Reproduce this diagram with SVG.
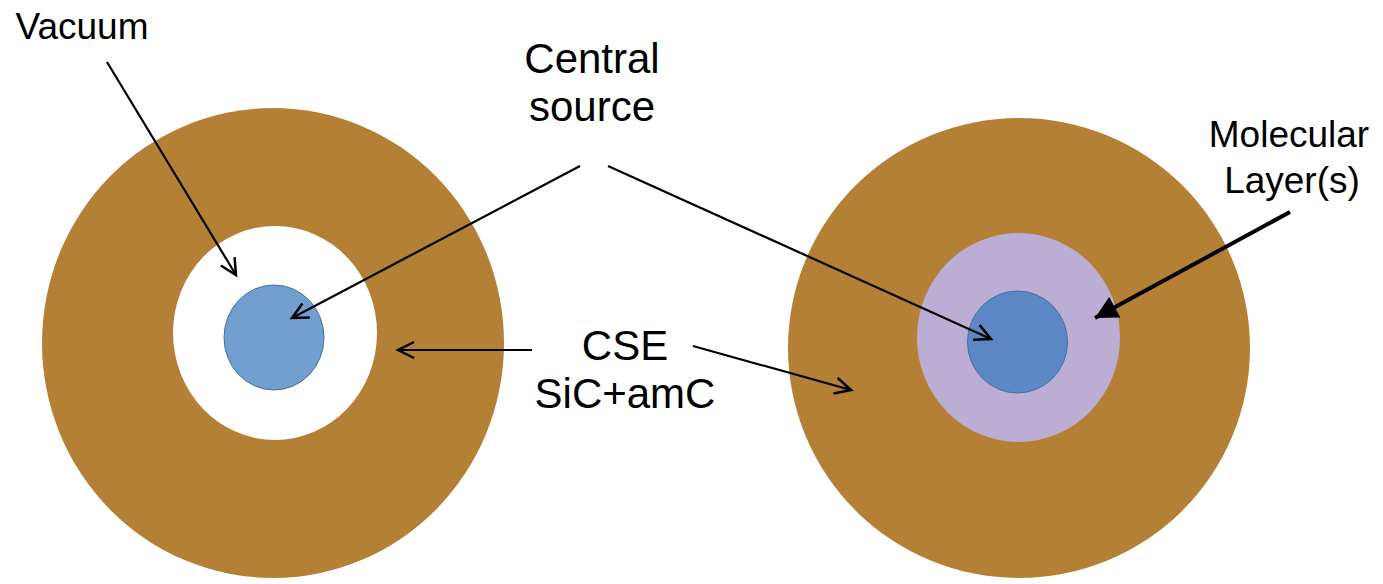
<svg xmlns="http://www.w3.org/2000/svg" width="1383" height="584" viewBox="0 0 1383 584">
<defs>
<style>
.brown{fill:#b48036}
.txt{font-family:"Liberation Sans",Arial,sans-serif;fill:#000}
.big{font-size:42px}
.small{font-size:37px}
.conn{stroke:#000;stroke-width:2.2;fill:none}
</style>
<marker id="open" markerUnits="userSpaceOnUse" markerWidth="24" markerHeight="24" viewBox="-20 -12 24 24" refX="0" refY="0" orient="auto">
<path d="M -16 -8 L 0 0 L -16 8" fill="none" stroke="#000" stroke-width="2.5"/>
</marker>
<marker id="solid" markerUnits="userSpaceOnUse" markerWidth="30" markerHeight="30" viewBox="-24 -14 28 28" refX="0" refY="0" orient="auto">
<path d="M -21 -11 L 0 0 L -21 11 Z" fill="#000"/>
</marker>
</defs>
<rect width="1383" height="584" fill="#fff"/>
<g id="left-shell">
<ellipse class="brown" cx="273" cy="343" rx="231" ry="235"/>
</g>
<g id="left-vacuum">
<ellipse cx="275" cy="333" rx="102" ry="107" fill="#fff"/>
</g>
<g id="left-source">
<ellipse cx="274" cy="337.5" rx="50" ry="52.5" fill="#729fcf" stroke="#41719c" stroke-width="1"/>
</g>
<g id="right-shell">
<ellipse class="brown" cx="1019" cy="348" rx="231" ry="230"/>
</g>
<g id="right-layer">
<ellipse cx="1018.5" cy="337.5" rx="101.5" ry="104.5" fill="#bcadd5"/>
</g>
<g id="right-source">
<ellipse cx="1017.5" cy="342" rx="50" ry="51" fill="#5c89c6" stroke="#41719c" stroke-width="1"/>
</g>
<g id="label-vacuum"><text class="txt small" x="82" y="39" text-anchor="middle">Vacuum</text></g>
<g id="label-central"><text class="txt big" x="592" y="73" text-anchor="middle">Central</text><text class="txt big" x="592" y="121" text-anchor="middle">source</text></g>
<g id="label-cse"><text class="txt big" x="625" y="360" text-anchor="middle">CSE</text><text class="txt big" x="625" y="408" text-anchor="middle">SiC+amC</text></g>
<g id="label-molecular"><text class="txt small" x="1289" y="147" text-anchor="middle">Molecular</text><text class="txt small" x="1292" y="193" text-anchor="middle">Layer(s)</text></g>
<g id="connectors">
<line class="conn" x1="107" y1="62" x2="236" y2="275" marker-end="url(#open)"/>
<line class="conn" x1="580" y1="166" x2="292" y2="318" marker-end="url(#open)"/>
<line class="conn" x1="608" y1="166" x2="991" y2="339" marker-end="url(#open)"/>
<line class="conn" x1="532" y1="350" x2="398" y2="350" marker-end="url(#open)"/>
<line class="conn" x1="693" y1="346" x2="851" y2="390" marker-end="url(#open)"/>
<line x1="1290" y1="212" x2="1095" y2="318" stroke="#000" stroke-width="4" marker-end="url(#solid)"/>
</g>
</svg>
